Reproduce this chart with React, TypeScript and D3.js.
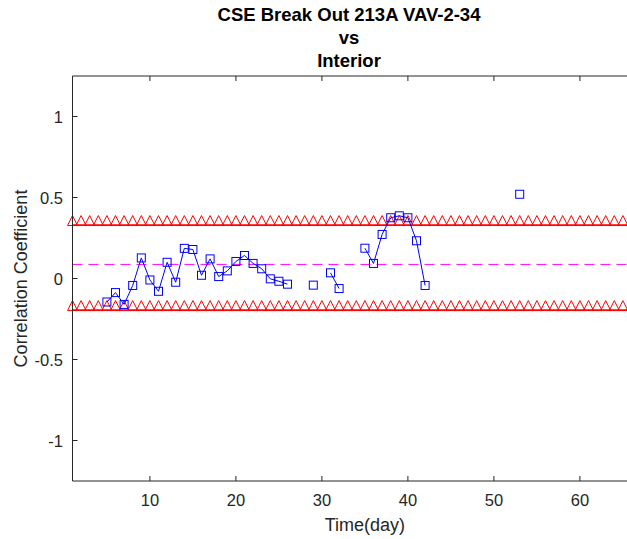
import React from 'react';
import * as d3 from 'd3';

// correlation per day (days with no value are simply absent)
const days = [5, 6, 7, 8, 9, 10, 11, 12, 13, 14, 15, 16, 17, 18, 19, 20, 21, 22, 23, 24, 25, 26,
    29, 31, 32, 35, 36, 37, 38, 39, 40, 41, 42, 53];
const values = [-0.145, -0.087, -0.16, -0.043, 0.127, -0.009, -0.079, 0.1, -0.023, 0.186, 0.179,
    0.02, 0.121, 0.012, 0.047, 0.105, 0.142, 0.093, 0.06, -0.002, -0.017, -0.035,
    -0.041, 0.035, -0.062, 0.187, 0.093, 0.272, 0.375, 0.387, 0.375, 0.233, -0.043, 0.52];

const meanValue = 0.087;
const upperLimit = 0.33;
const lowerLimit = -0.195;
const limitDays = d3.range(1, 68);

const xTicks = [10, 20, 30, 40, 50, 60];
const yTicks = [-1, -0.5, 0, 0.5, 1];
const yTickLabels = ['-1', '-0.5', '0', '0.5', '1'];
const titleLines = ['CSE Break Out 213A VAV-2-34', 'vs', 'Interior'];

const W = 627;
const H = 539;
const left = 72.5;
const top = 76;
const bottom = 481;
const axisColor = '#262626';
const font = '"Liberation Sans", Arial, Helvetica, sans-serif';

export default function App() {
    const x = d3.scaleLinear().domain([1, 67]).range([left, left + 66 * 8.6]);
    const y = d3.scaleLinear().domain([-1.25, 1.25]).range([bottom, top]);
    const right = x.range()[1];

    // split the series where days are not consecutive
    const segments: { d: number, v: number }[][] = [];
    days.forEach((d, i) => {
        const p = { d: d, v: values[i] };
        if (i > 0 && d - days[i - 1] === 1) {
            segments[segments.length - 1].push(p);
        } else {
            segments.push([p]);
        }
    });

    const line = d3.line<{ d: number, v: number }>()
        .x((p) => x(p.d))
        .y((p) => y(p.v));

    const triangle = (cx: number, base: number) =>
        `M${cx - 5},${base + 0.5}L${cx},${base - 9.5}L${cx + 5},${base + 0.5}Z`;

    const tickLen = 5;

    return (
        <svg width={W} height={H} style={{ position: 'absolute', left: 0, top: 0, background: '#fff' }}
            fontFamily={font}>
            {/* limits */}
            {[upperLimit, lowerLimit].map((lim, k) => (
                <g key={'lim' + k}>
                    <line x1={left} x2={W} y1={y(lim)} y2={y(lim)} stroke="#ff0000" strokeWidth={1.5} />
                    {limitDays.map((d) => (
                        <path key={d} d={triangle(x(d), y(lim))} fill="none" stroke="#ff0000" strokeWidth={1} />
                    ))}
                </g>
            ))}

            {/* mean */}
            <line x1={left} x2={W} y1={y(meanValue)} y2={y(meanValue)}
                stroke="#ff00ff" strokeWidth={1} strokeDasharray="10,6" />

            {/* series */}
            {segments.map((s, i) => (
                s.length > 1 ? <path key={'s' + i} d={line(s) || ''} fill="none" stroke="#0000ff" strokeWidth={1} /> : null
            ))}
            {days.map((d, i) => (
                <rect key={'m' + i} x={x(d) - 4} y={y(values[i]) - 4} width={8} height={8}
                    fill="none" stroke="#0000ff" strokeWidth={1} />
            ))}

            {/* axes box */}
            <path d={`M${right},${top}H${left}V${bottom}H${right}`} fill="none" stroke={axisColor} strokeWidth={1} />
            {xTicks.map((t) => (
                <g key={'xt' + t}>
                    <line x1={x(t)} x2={x(t)} y1={bottom} y2={bottom - tickLen} stroke={axisColor} />
                    <line x1={x(t)} x2={x(t)} y1={top} y2={top + tickLen} stroke={axisColor} />
                    <text x={x(t)} y={bottom + 25} textAnchor="middle" fontSize={16.5} fill={axisColor}>{t}</text>
                </g>
            ))}
            {yTicks.map((t, i) => (
                <g key={'yt' + t}>
                    <line x1={left} x2={left + tickLen} y1={y(t)} y2={y(t)} stroke={axisColor} />
                    <text x={63} y={y(t) + 6} textAnchor="end" fontSize={16.5} fill={axisColor}>{yTickLabels[i]}</text>
                </g>
            ))}

            {/* labels */}
            <text x={x(35)} y={531} textAnchor="middle" fontSize={18} fill={axisColor}>Time(day)</text>
            <text transform={`translate(27,${y(0)}) rotate(-90)`} textAnchor="middle" fontSize={18} fill={axisColor}>
                Correlation Coefficient
            </text>
            {titleLines.map((t, i) => (
                <text key={'t' + i} x={349} y={21 + i * 23} textAnchor="middle" fontSize={18.5}
                    fontWeight="bold" fill="#000">{t}</text>
            ))}
        </svg>
    );
}
